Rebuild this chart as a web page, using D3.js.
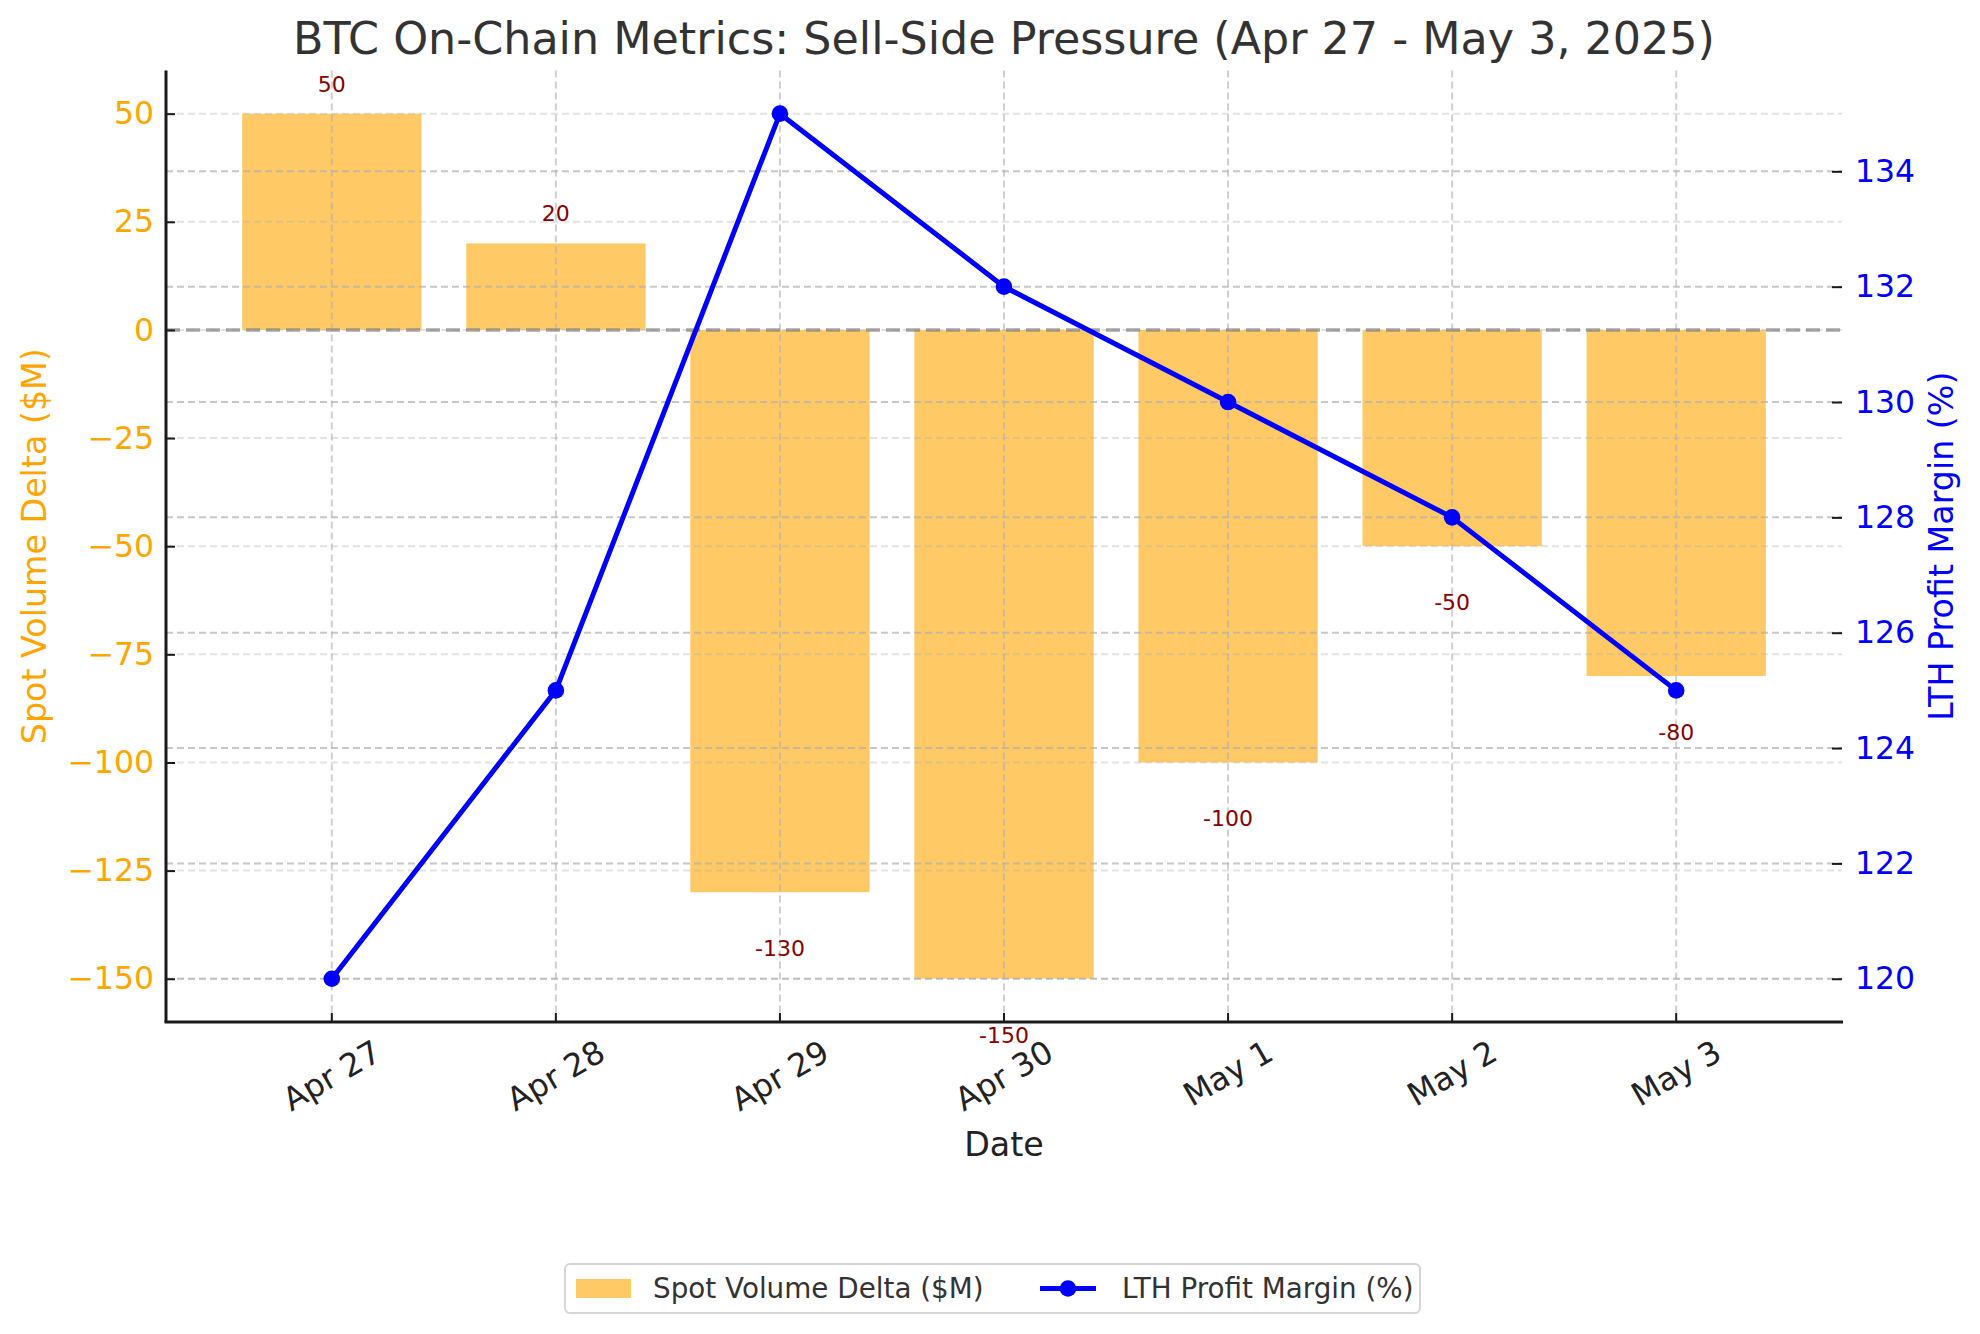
<!DOCTYPE html>
<html lang="en">
<head>
<meta charset="utf-8">
<title>BTC On-Chain Metrics</title>
<script src="https://d3js.org/d3.v7.min.js"></script>
<style>
body { margin: 0; background: #fff; }
svg text { font-family: "DejaVu Sans", sans-serif; }
</style>
</head>
<body>
<div id="chart"></div>
<script>
// data
var dates = ["Apr 27", "Apr 28", "Apr 29", "Apr 30", "May 1", "May 2", "May 3"];
var spotDelta = [50, 20, -130, -150, -100, -50, -80];
var lthMargin = [120, 125, 135, 132, 130, 128, 125];
var leftTicks = [-150, -125, -100, -75, -50, -25, 0, 25, 50];
var rightTicks = [120, 122, 124, 126, 128, 130, 132, 134];

var W = 1980, H = 1334;
var axLeft = 166, axRight = 1842, axTop = 70.4, axBottom = 1022;

var svg = d3.select("#chart").append("svg")
    .attr("width", W).attr("height", H)
    .style("background-color", "#ffffff");

var x = d3.scaleBand().domain(dates).range([axLeft, axRight])
    .paddingInner(0.2).paddingOuter(0.34);
var cx = function(d) { return x(d) + x.bandwidth() / 2; };
var yL = d3.scaleLinear().domain([-160, 60]).range([axBottom, axTop]);
var yR = d3.scaleLinear().domain([119.25, 135.75]).range([axBottom, axTop]);

// bars
svg.append("g").selectAll("rect")
    .data(dates)
    .enter().append("rect")
    .attr("x", function(d) { return x(d); })
    .attr("width", x.bandwidth())
    .attr("y", function(d, i) { return yL(Math.max(0, spotDelta[i])); })
    .attr("height", function(d, i) { return Math.abs(yL(spotDelta[i]) - yL(0)); })
    .attr("fill", "#FFA500").attr("fill-opacity", 0.6);

// grids
var grid = svg.append("g").attr("fill", "none").attr("stroke-width", 2).attr("stroke-dasharray", "7,4");
grid.selectAll(".gl").data(leftTicks).enter().append("line")
    .attr("x1", axLeft).attr("x2", axRight)
    .attr("y1", function(d) { return yL(d); }).attr("y2", function(d) { return yL(d); })
    .attr("stroke", "#b0b0b0").attr("stroke-opacity", 0.35);
grid.selectAll(".gr").data(rightTicks).enter().append("line")
    .attr("x1", axLeft).attr("x2", axRight)
    .attr("y1", function(d) { return yR(d); }).attr("y2", function(d) { return yR(d); })
    .attr("stroke", "#b0b0b0").attr("stroke-opacity", 0.7);
grid.selectAll(".gx").data(dates).enter().append("line")
    .attr("x1", cx).attr("x2", cx)
    .attr("y1", axTop).attr("y2", axBottom)
    .attr("stroke", "#b0b0b0").attr("stroke-opacity", 0.6);

// zero line
svg.append("line")
    .attr("x1", axLeft).attr("x2", axRight)
    .attr("y1", yL(0)).attr("y2", yL(0))
    .attr("stroke", "#808080").attr("stroke-opacity", 0.7)
    .attr("stroke-width", 3.5).attr("stroke-dasharray", "14,6");

// bar value labels
svg.append("g").selectAll("text")
    .data(spotDelta)
    .enter().append("text")
    .attr("x", function(d, i) { return cx(dates[i]); })
    .attr("y", function(d) { return d >= 0 ? yL(d + 5) - 8 : yL(d - 10) + 13; })
    .attr("text-anchor", "middle")
    .attr("dominant-baseline", "central")
    .attr("font-size", 22)
    .attr("fill", "#8B0000")
    .text(function(d) { return d; });

// line
var line = d3.line()
    .x(function(d, i) { return cx(dates[i]); })
    .y(function(d) { return yR(d); });
svg.append("path")
    .datum(lthMargin)
    .attr("d", line)
    .attr("fill", "none").attr("stroke", "#0000FF").attr("stroke-width", 5)
    .attr("stroke-linejoin", "round");
svg.append("g").selectAll("circle")
    .data(lthMargin)
    .enter().append("circle")
    .attr("cx", function(d, i) { return cx(dates[i]); })
    .attr("cy", function(d) { return yR(d); })
    .attr("r", 8.3)
    .attr("fill", "#0000FF");

// axes
var axL = svg.append("g").attr("transform", "translate(" + axLeft + ",0)")
    .call(d3.axisLeft(yL).tickValues(leftTicks).tickSizeInner(-9).tickSizeOuter(0).tickPadding(12));
axL.select(".domain").attr("stroke", "#1a1a1a").attr("stroke-width", 3)
    .attr("d", "M0," + axTop + "V" + axBottom);
axL.selectAll(".tick line").attr("stroke", "#1a1a1a").attr("stroke-width", 2);
axL.selectAll(".tick text").attr("fill", "#FFA500").attr("font-size", 31.5)
    .attr("font-family", "DejaVu Sans");

var axR = svg.append("g").attr("transform", "translate(" + axRight + ",0)")
    .call(d3.axisRight(yR).tickValues(rightTicks).tickSizeInner(-10).tickSizeOuter(0).tickPadding(13));
axR.select(".domain").remove();
axR.selectAll(".tick line").attr("stroke", "#1a1a1a").attr("stroke-width", 2);
axR.selectAll(".tick text").attr("fill", "#0000FF").attr("font-size", 31.5)
    .attr("font-family", "DejaVu Sans");

var axB = svg.append("g").attr("transform", "translate(0," + axBottom + ")")
    .call(d3.axisBottom(x).tickSizeInner(-9).tickSizeOuter(0).tickFormat(""));
axB.select(".domain").attr("stroke", "#1a1a1a").attr("stroke-width", 3)
    .attr("d", "M" + (axLeft - 1.5) + ",0H" + (axRight + 1));
axB.selectAll(".tick line").attr("stroke", "#1a1a1a").attr("stroke-width", 2);

// rotated x tick labels
var xl = svg.append("g").selectAll("text")
    .data(dates)
    .enter().append("text")
    .attr("font-size", 32)
    .attr("fill", "#222222")
    .attr("text-anchor", "middle")
    .attr("dominant-baseline", "central")
    .text(function(d) { return d; });
xl.each(function(d) {
    var w = this.getComputedTextLength();
    var h = 32 * 1.16;
    var ch = w * Math.sin(Math.PI / 6) + h * Math.cos(Math.PI / 6);
    var yy = axBottom + 11 + ch / 2;
    d3.select(this).attr("transform", "translate(" + cx(d) + "," + yy + ") rotate(-30)");
});

// axis labels
svg.append("text")
    .attr("transform", "translate(34," + ((axTop + axBottom) / 2) + ") rotate(-90)")
    .attr("text-anchor", "middle").attr("dominant-baseline", "central")
    .attr("font-size", 33.3).attr("fill", "#FFA500")
    .text("Spot Volume Delta ($M)");
svg.append("text")
    .attr("transform", "translate(1941," + ((axTop + axBottom) / 2) + ") rotate(-90)")
    .attr("text-anchor", "middle").attr("dominant-baseline", "central")
    .attr("font-size", 33.3).attr("fill", "#0000FF")
    .text("LTH Profit Margin (%)");
svg.append("text")
    .attr("x", (axLeft + axRight) / 2).attr("y", 1144)
    .attr("text-anchor", "middle").attr("dominant-baseline", "central")
    .attr("font-size", 33.3).attr("fill", "#222222")
    .text("Date");

// title
svg.append("text")
    .attr("x", (axLeft + axRight) / 2).attr("y", 54)
    .attr("text-anchor", "middle")
    .attr("font-size", 44.4).attr("fill", "#333333")
    .text("BTC On-Chain Metrics: Sell-Side Pressure (Apr 27 - May 3, 2025)");

// legend
var lg = svg.append("g").attr("transform", "translate(565,1264)");
lg.append("rect")
    .attr("width", 855).attr("height", 49).attr("rx", 5)
    .attr("fill", "#ffffff").attr("stroke", "#d5d5d5").attr("stroke-width", 2);
lg.append("rect")
    .attr("x", 11).attr("y", 15).attr("width", 55).attr("height", 19)
    .attr("fill", "#FFA500").attr("fill-opacity", 0.6);
lg.append("text")
    .attr("x", 88).attr("y", 24.5).attr("dominant-baseline", "central")
    .attr("font-size", 27.8).attr("fill", "#333333")
    .text("Spot Volume Delta ($M)");
lg.append("line")
    .attr("x1", 475).attr("x2", 531).attr("y1", 24.5).attr("y2", 24.5)
    .attr("stroke", "#0000FF").attr("stroke-width", 5);
lg.append("circle")
    .attr("cx", 503).attr("cy", 24.5).attr("r", 8.3).attr("fill", "#0000FF");
lg.append("text")
    .attr("x", 557).attr("y", 24.5).attr("dominant-baseline", "central")
    .attr("font-size", 27.8).attr("fill", "#333333")
    .text("LTH Profit Margin (%)");
</script>
</body>
</html>
